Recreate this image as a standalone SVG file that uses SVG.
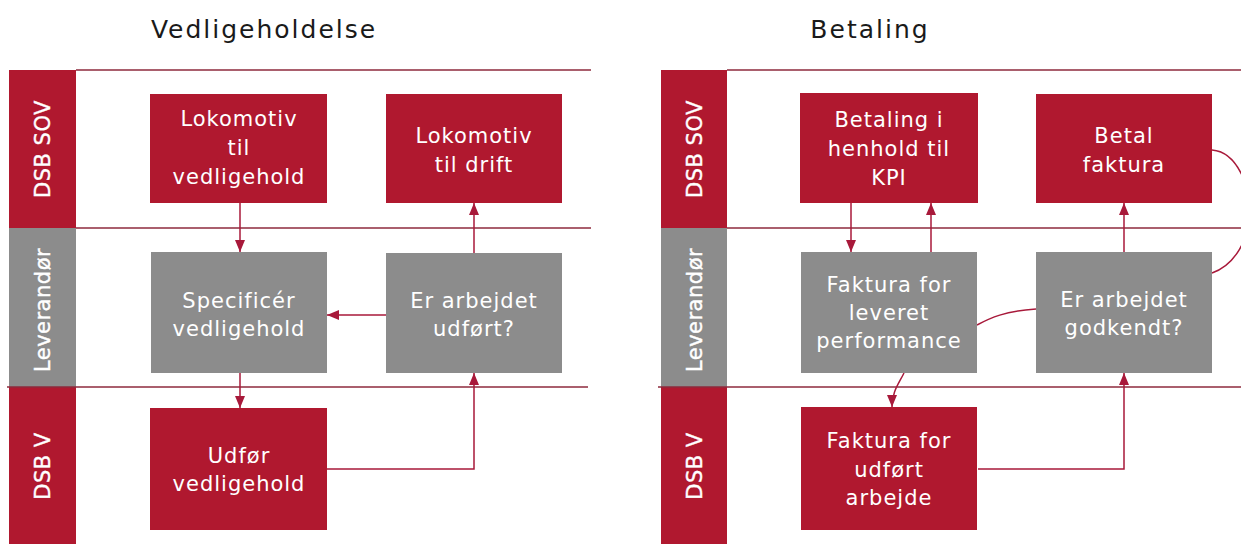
<svg xmlns="http://www.w3.org/2000/svg" width="1241" height="544" viewBox="0 0 1241 544">
<defs>
<marker id="ah" viewBox="0 0 12 10" refX="12" refY="5" markerWidth="12" markerHeight="10" markerUnits="userSpaceOnUse" orient="auto">
<path d="M0,0 L12,5 L0,10 z" fill="#a8193a"/>
</marker>
<style>
.red{fill:#b0182f}
.gray{fill:#8c8c8c}
.sep{stroke:#8e2a3c;stroke-width:1.3;fill:none}
.con{stroke:#a8193a;stroke-width:1.5;fill:none}
.arr{marker-end:url(#ah)}
.t{font-family:"DejaVu Sans",sans-serif;font-size:21px;fill:#ffffff;text-anchor:middle;letter-spacing:1px}
.lane{font-family:"DejaVu Sans",sans-serif;font-size:21px;fill:#ffffff;text-anchor:middle;letter-spacing:0.5px;stroke:#ffffff;stroke-width:0.4}
.title{font-family:"DejaVu Sans",sans-serif;font-size:25px;fill:#1a1a1a;text-anchor:middle;letter-spacing:2px}
</style>
</defs>
<rect width="1241" height="544" fill="#ffffff"/>

<g id="titles">
<text class="title" x="264" y="38">Vedligeholdelse</text>
<text class="title" x="870" y="38">Betaling</text>
</g>

<g id="lanes-left">
<rect class="red" x="9" y="70" width="67" height="158"/>
<rect class="gray" x="9" y="228" width="67" height="159"/>
<rect class="red" x="9" y="387" width="67" height="157"/>
<text class="lane" transform="translate(50,149) rotate(-90)">DSB SOV</text>
<text class="lane" transform="translate(50,310) rotate(-90)">Leverandør</text>
<text class="lane" transform="translate(50,466) rotate(-90)">DSB V</text>
<line class="sep" x1="76" y1="70" x2="591" y2="70"/>
<line class="sep" x1="76" y1="228" x2="591" y2="228"/>
<line class="sep" x1="7" y1="387" x2="588" y2="387"/>
</g>

<g id="lanes-right">
<rect class="red" x="661" y="70" width="66" height="158"/>
<rect class="gray" x="661" y="228" width="66" height="159"/>
<rect class="red" x="661" y="387" width="66" height="157"/>
<text class="lane" transform="translate(702,149) rotate(-90)">DSB SOV</text>
<text class="lane" transform="translate(702,310) rotate(-90)">Leverandør</text>
<text class="lane" transform="translate(702,466) rotate(-90)">DSB V</text>
<line class="sep" x1="727" y1="70" x2="1241" y2="70"/>
<line class="sep" x1="727" y1="228" x2="1241" y2="228"/>
<line class="sep" x1="658" y1="387" x2="1241" y2="387"/>
</g>

<g id="connectors">
<path class="con arr" d="M240,203 V252"/>
<path class="con arr" d="M240,373 V408"/>
<path class="con arr" d="M386,315 H327"/>
<path class="con arr" d="M474,253 V203"/>
<path class="con arr" d="M327,469 H474 V373"/>
<path class="con arr" d="M851,203 V252"/>
<path class="con arr" d="M931,252 V203"/>
<path class="con arr" d="M1124,252 V203"/>
<path class="con" d="M1212,150 C1240,152 1252,195 1250,215 C1248,240 1235,265 1212,273"/>
<path class="con" d="M1036,309 C1005,311 990,318 977,325"/>
<path class="con arr" d="M904,373 C898,385 892,392 892,407"/>
<path class="con arr" d="M978,469 H1124 V373"/>
</g>

<g id="n-lok-vedligehold">
<rect class="red" x="150" y="94" width="177" height="109"/>
<text class="t" x="239" y="126">Lokomotiv</text>
<text class="t" x="239" y="155">til</text>
<text class="t" x="239" y="184">vedligehold</text>
</g>
<g id="n-lok-drift">
<rect class="red" x="386" y="94" width="176" height="109"/>
<text class="t" x="474" y="143">Lokomotiv</text>
<text class="t" x="474" y="172">til drift</text>
</g>
<g id="n-specificer">
<rect class="gray" x="151" y="252" width="176" height="121"/>
<text class="t" x="239" y="308">Specificér</text>
<text class="t" x="239" y="336">vedligehold</text>
</g>
<g id="n-udfoert-q">
<rect class="gray" x="386" y="253" width="176" height="120"/>
<text class="t" x="474" y="308">Er arbejdet</text>
<text class="t" x="474" y="336">udført?</text>
</g>
<g id="n-udfoer">
<rect class="red" x="150" y="408" width="177" height="122"/>
<text class="t" x="239" y="463">Udfør</text>
<text class="t" x="239" y="491">vedligehold</text>
</g>

<g id="n-betaling-kpi">
<rect class="red" x="800" y="93" width="178" height="110"/>
<text class="t" x="889" y="127">Betaling i</text>
<text class="t" x="889" y="156">henhold til</text>
<text class="t" x="889" y="185">KPI</text>
</g>
<g id="n-betal-faktura">
<rect class="red" x="1036" y="94" width="176" height="109"/>
<text class="t" x="1124" y="143">Betal</text>
<text class="t" x="1124" y="172">faktura</text>
</g>
<g id="n-faktura-performance">
<rect class="gray" x="801" y="252" width="176" height="121"/>
<text class="t" x="889" y="292">Faktura for</text>
<text class="t" x="889" y="320">leveret</text>
<text class="t" x="889" y="348">performance</text>
</g>
<g id="n-godkendt-q">
<rect class="gray" x="1036" y="252" width="176" height="121"/>
<text class="t" x="1124" y="307">Er arbejdet</text>
<text class="t" x="1124" y="335">godkendt?</text>
</g>
<g id="n-faktura-udfoert">
<rect class="red" x="801" y="407" width="176" height="123"/>
<text class="t" x="889" y="448">Faktura for</text>
<text class="t" x="889" y="477">udført</text>
<text class="t" x="889" y="505">arbejde</text>
</g>
</svg>
